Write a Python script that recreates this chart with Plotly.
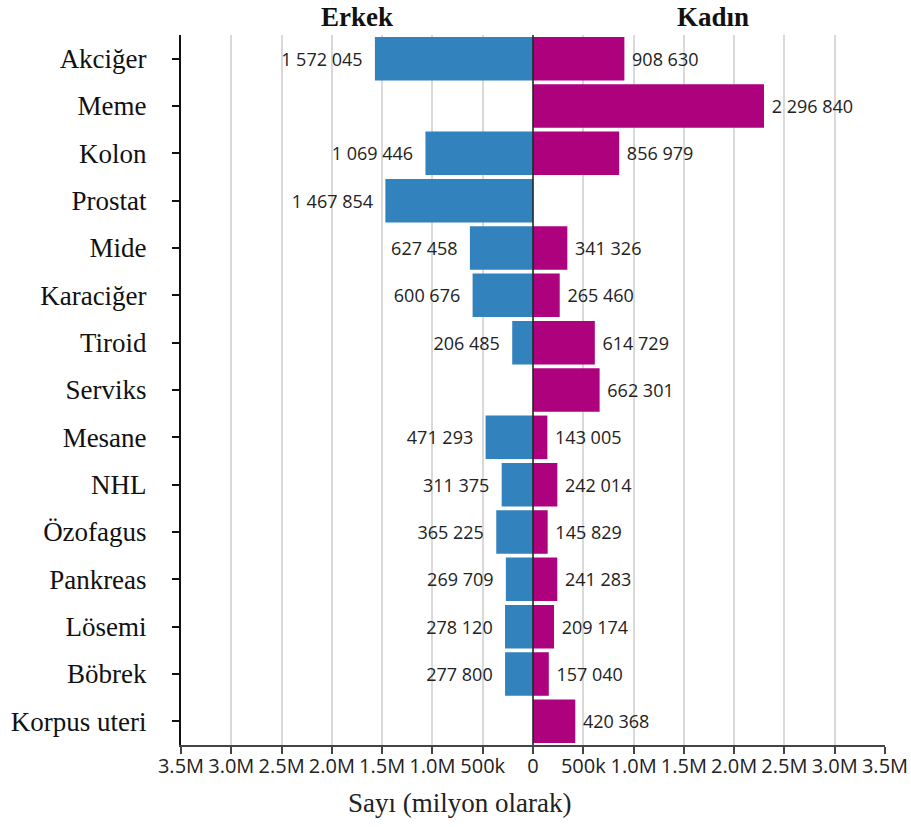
import plotly.graph_objects as go

# Cancer cases by site, men vs women
sites = ["Akciğer", "Meme", "Kolon", "Prostat", "Mide", "Karaciğer", "Tiroid",
         "Serviks", "Mesane", "NHL", "Özofagus", "Pankreas", "Lösemi", "Böbrek",
         "Korpus uteri"]
erkek = [1572045, None, 1069446, 1467854, 627458, 600676, 206485,
         None, 471293, 311375, 365225, 269709, 278120, 277800, None]
kadin = [908630, 2296840, 856979, None, 341326, 265460, 614729,
         662301, 143005, 242014, 145829, 241283, 209174, 157040, 420368]

tick_vals = [-3.5e6, -3.0e6, -2.5e6, -2.0e6, -1.5e6, -1.0e6, -0.5e6, 0,
             0.5e6, 1.0e6, 1.5e6, 2.0e6, 2.5e6, 3.0e6, 3.5e6]
tick_text = ["3.5M", "3.0M", "2.5M", "2.0M", "1.5M", "1.0M", "500k", "0",
             "500k", "1.0M", "1.5M", "2.0M", "2.5M", "3.0M", "3.5M"]

BLUE = "#3182bd"
MAGENTA = "#ae017e"
NB = "\u00a0"


def fmt(v):
    return f"{v:,}".replace(",", " ")


erkek_x = [-v if v is not None else None for v in erkek]
erkek_text = [fmt(v) + NB * 2 if v is not None else "" for v in erkek]
kadin_text = [NB + fmt(v) if v is not None else "" for v in kadin]

fig = go.Figure()
fig.add_trace(go.Bar(
    y=sites, x=erkek_x, orientation="h", name="Erkek",
    marker=dict(color=BLUE, line=dict(width=0)),
    text=erkek_text, textposition="outside", constraintext="none",
    cliponaxis=False,
    textfont=dict(family="Open Sans", size=18, color="#222"),
    hoverinfo="skip",
))
fig.add_trace(go.Bar(
    y=sites, x=kadin, orientation="h", name="Kadın",
    marker=dict(color=MAGENTA, line=dict(width=0)),
    text=kadin_text, textposition="outside", constraintext="none",
    cliponaxis=False,
    textfont=dict(family="Open Sans", size=18, color="#222"),
    hoverinfo="skip",
))

# zero reference line drawn over the bars
fig.add_shape(type="line", xref="x", yref="paper", x0=0, x1=0, y0=0, y1=1,
              line=dict(color="#222", width=1.5), layer="above")

serif = "Liberation Serif, Times New Roman, serif"
fig.add_annotation(text="<b>Erkek</b>", xref="paper", yref="paper", x=0.25, y=1,
                   xanchor="center", yanchor="middle", yshift=18, showarrow=False,
                   font=dict(family=serif, size=27, color="#111"))
fig.add_annotation(text="<b>Kadın</b>", xref="paper", yref="paper", x=0.755, y=1,
                   xanchor="center", yanchor="middle", yshift=18, showarrow=False,
                   font=dict(family=serif, size=27, color="#111"))
fig.add_annotation(text="Sayı (milyon olarak)", xref="paper", yref="paper",
                   x=0.395, y=0, xanchor="center", yanchor="middle", yshift=-58,
                   showarrow=False,
                   font=dict(family=serif, size=27, color="#222"))

fig.update_layout(
    width=911, height=827,
    margin=dict(l=181, r=26, t=35, b=82, autoexpand=False),
    barmode="relative", bargap=0.08,
    plot_bgcolor="white", paper_bgcolor="white",
    showlegend=False,
    xaxis=dict(
        range=[-3.5e6, 3.5e6], tickvals=tick_vals, ticktext=tick_text,
        showgrid=True, gridcolor="#d9d9d9", gridwidth=1.5,
        zeroline=False, showline=True, linecolor="#444", linewidth=2,
        ticks="outside", ticklen=7, tickwidth=1.5, tickcolor="#444",
        ticklabelstandoff=-5,
        tickfont=dict(family="Open Sans", size=20, color="#222"),
        automargin=False, fixedrange=True,
    ),
    yaxis=dict(
        categoryorder="array", categoryarray=sites, autorange="reversed",
        showline=True, linecolor="#111", linewidth=2,
        ticks="outside", ticklen=7, tickwidth=1.5, tickcolor="#111",
        ticklabelstandoff=20,
        tickfont=dict(family=serif, size=27, color="#111"),
        showgrid=False, automargin=False, fixedrange=True,
    ),
)

fig.write_html("out.html")
